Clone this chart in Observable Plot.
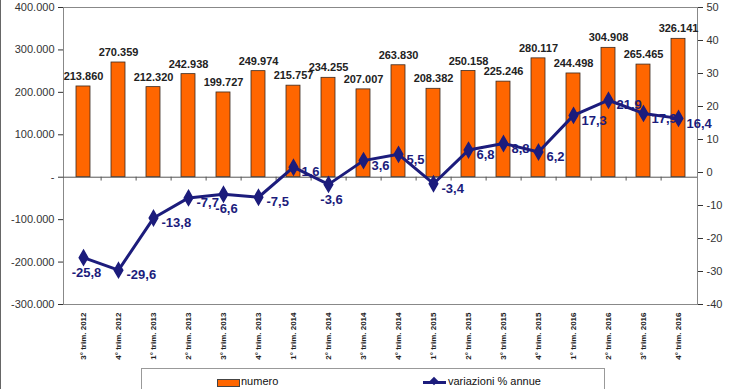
<!DOCTYPE html>
<html>
<head>
<meta charset="utf-8">
<script src="https://cdn.jsdelivr.net/npm/d3@7"></script>
<script src="https://cdn.jsdelivr.net/npm/@observablehq/plot@0.6"></script>
<style>
  html, body { margin: 0; padding: 0; background: #fff; }
  body { width: 740px; height: 389px; overflow: hidden; position: relative; font-family: "Liberation Sans", Arial, sans-serif; }
  #chart svg { display: block; }
  #chart g[aria-label="x-axis tick label"] text { font-weight: bold; }
  .leftborder { position: absolute; left: 0; top: 0; width: 1px; height: 389px; background: #666; }
  .legend { position: absolute; left: 141px; top: 368px; width: 464px; height: 40px; border: 1px solid #999; box-sizing: border-box; font-size: 11px; color: #111; }
  .sw { position: absolute; left: 75px; top: 10px; width: 21px; height: 6px; background: #FF6600; border: 1px solid #444; }
  .lt1 { position: absolute; left: 99px; top: 6px; }
  .ln { position: absolute; left: 281px; top: 12px; width: 23px; height: 3px; background: #1c1c7c; }
  .dm { position: absolute; left: 289px; top: 9px; width: 6px; height: 6px; background: #1c1c7c; transform: rotate(45deg); }
  .lt2 { position: absolute; left: 306px; top: 6px; }
</style>
</head>
<body>
<div id="chart"></div>
<div class="leftborder"></div>
<div class="legend">
  <div class="sw"></div><div class="lt1">numero</div>
  <div class="ln"></div><div class="dm"></div><div class="lt2">variazioni % annue</div>
</div>
<script>
const periods = ["3° trim. 2012", "4° trim. 2012", "1° trim. 2013", "2° trim. 2013", "3° trim. 2013", "4° trim. 2013",
  "1° trim. 2014", "2° trim. 2014", "3° trim. 2014", "4° trim. 2014", "1° trim. 2015", "2° trim. 2015",
  "3° trim. 2015", "4° trim. 2015", "1° trim. 2016", "2° trim. 2016", "3° trim. 2016", "4° trim. 2016"];
const numero = [213860, 270359, 212320, 242938, 199727, 249974, 215757, 234255, 207007, 263830, 208382, 250158,
  225246, 280117, 244498, 304908, 265465, 326141];
const variazioni = [-25.8, -29.6, -13.8, -7.7, -6.6, -7.5, 1.6, -3.6, 3.6, 5.5, -3.4, 6.8, 8.8, 6.2, 17.3, 21.9, 17.9, 16.4];
const leftTicks = [-300000, -200000, -100000, 0, 100000, 200000, 300000, 400000];
const rightTicks = [-40, -30, -20, -10, 0, 10, 20, 30, 40, 50];
// periods whose % label sits below the marker instead of to its right
const labelBelow = ["3° trim. 2012", "3° trim. 2013", "2° trim. 2014"];

const loc = d3.formatLocale({decimal: ",", thousands: ".", grouping: [3], minus: "-"});
const fmtInt = loc.format(",d");
const fmtPct = loc.format(".1f");
const fmtLeft = d => d === 0 ? "-" : fmtInt(d);

// map the right-axis (%) domain [-40, 50] onto the left domain [-300000, 400000]
const toL = r => -300000 + (r + 40) / 90 * 700000;
const fromL = v => (v + 300000) / 700000 * 90 - 40;

const data = periods.map((p, i) => ({period: p, numero: numero[i], variazione: variazioni[i]}));

const W = 740, ML = 63, MR = 43;
const step = (W - ML - MR) / periods.length;
const navy = "#1c1c7c";

const chart = Plot.plot({
  width: W,
  height: 368,
  marginLeft: ML,
  marginRight: MR,
  marginTop: 7,
  marginBottom: 64,
  style: {fontFamily: "'Liberation Sans', Arial, sans-serif", background: "#fff", overflow: "visible"},
  x: {type: "band", domain: periods, paddingInner: 0.6, paddingOuter: 0.3, axis: null, label: null},
  y: {domain: [-300000, 400000], axis: null, label: null},
  marks: [
    Plot.frame({stroke: "#888"}),
    Plot.axisY(leftTicks, {anchor: "left", label: null, tickFormat: fmtLeft, tickSize: 5, tickPadding: 4, fontSize: 11, color: "#333"}),
    Plot.axisY(rightTicks.map(toL), {anchor: "right", label: null, tickFormat: d => String(Math.round(fromL(d))), tickSize: 5, tickPadding: 4, fontSize: 11, color: "#333"}),
    Plot.axisX(periods, {anchor: "bottom", label: null, tickRotate: -90, tickSize: 0, tickPadding: 8, fontSize: 8, fontWeight: "bold", color: "#222"}),
    Plot.barY(data, {x: "period", y: "numero", fill: "#FF6600", stroke: "#3a2a20", strokeWidth: 0.8}),
    Plot.ruleY([0], {stroke: "#555", strokeWidth: 1}),
    Plot.ruleX(periods.slice(0, -1), {x: d => d, y1: 0, y2: -9000, dx: step / 2, stroke: "#555"}),
    Plot.text(data, {x: "period", y: "numero", text: d => fmtInt(d.numero), dy: -10, fontSize: 11, fontWeight: "bold", fill: "#222"}),
    Plot.line(data, {x: "period", y: d => toL(d.variazione), stroke: navy, strokeWidth: 3}),
    Plot.dot(data, {x: "period", y: d => toL(d.variazione), symbol: "diamond", r: 4.5, fill: navy, stroke: navy}),
    Plot.text(data, {filter: d => !labelBelow.includes(d.period), x: "period", y: d => toL(d.variazione), text: d => fmtPct(d.variazione), dx: 8, dy: 5, textAnchor: "start", fontSize: 13, fontWeight: "bold", fill: navy}),
    Plot.text(data, {filter: d => labelBelow.includes(d.period), x: "period", y: d => toL(d.variazione), text: d => fmtPct(d.variazione), dx: 3, dy: 15, textAnchor: "middle", fontSize: 13, fontWeight: "bold", fill: navy})
  ]
});
document.getElementById("chart").appendChild(chart);
</script>
</body>
</html>
